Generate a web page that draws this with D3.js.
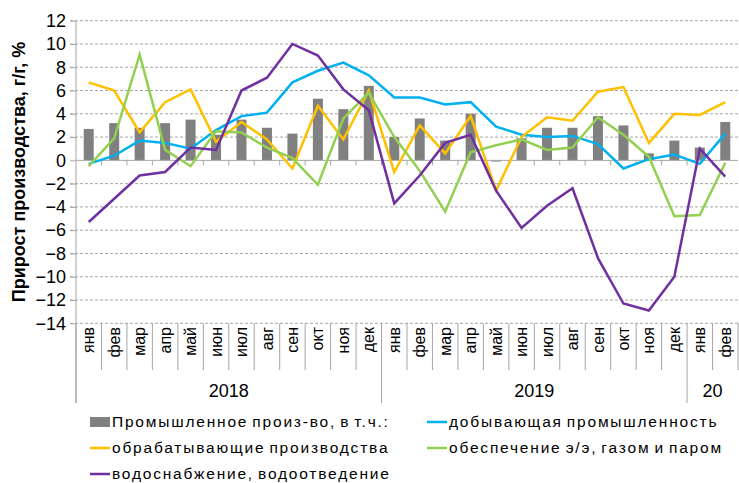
<!DOCTYPE html>
<html>
<head>
<meta charset="utf-8">
<script src="https://cdn.jsdelivr.net/npm/d3@7"></script>
<style>
  body { margin: 0; background: #fff; }
  text { font-family: "Liberation Sans", Arial, sans-serif; fill: #000; }
</style>
</head>
<body>
<div id="chart-area"></div>
<script>
// Data
var months = ["янв", "фев", "мар", "апр", "май", "июн", "июл", "авг", "сен", "окт", "ноя", "дек",
              "янв", "фев", "мар", "апр", "май", "июн", "июл", "авг", "сен", "окт", "ноя", "дек",
              "янв", "фев"];
var years = [{label: "2018", start: 0, end: 12}, {label: "2019", start: 12, end: 24}, {label: "20", start: 24, end: 26}];

var industry = [2.7, 3.2, 2.8, 3.2, 3.5, 2.2, 3.5, 2.8, 2.3, 5.3, 4.4, 6.4,
                2.0, 3.6, 1.7, 4.0, -0.1, 1.9, 2.8, 2.8, 3.8, 3.0, 0.6, 1.7, 1.1, 3.3];
var mining = [-0.3, 0.4, 1.7, 1.5, 1.0, 2.6, 3.8, 4.1, 6.7, 7.7, 8.4, 7.3,
              5.4, 5.4, 4.8, 5.0, 2.9, 2.2, 2.0, 2.1, 1.4, -0.7, 0.1, 0.5, -0.3, 2.3];
var manufacturing = [6.7, 6.0, 2.4, 5.0, 6.1, 1.6, 3.3, 1.8, -0.7, 4.7, 1.8, 6.0,
                     -1.0, 3.0, 0.6, 3.8, -2.6, 2.0, 3.7, 3.4, 5.9, 6.3, 1.5, 4.0, 3.9, 5.0];
var energy = [-0.5, 1.9, 9.1, 0.9, -0.5, 2.5, 2.4, 1.1, 0.2, -2.1, 3.6, 5.8,
              2.0, -0.9, -4.4, 0.7, 1.3, 1.8, 0.9, 1.1, 3.7, 2.2, 0.3, -4.8, -4.7, -0.2];
var water = [-5.3, -3.3, -1.3, -1.0, 1.1, 0.9, 6.0, 7.1, 10.0, 9.0, 6.1, 4.3,
             -3.7, -1.3, 1.5, 2.2, -2.6, -5.8, -3.9, -2.4, -8.4, -12.3, -12.9, -10.0, 1.0, -1.4];
var yTicks = [12, 10, 8, 6, 4, 2, 0, -2, -4, -6, -8, -10, -12, -14];

var lineSeries = [
  {name: "добывающая промышленность", values: mining, color: "#00b0f0"},
  {name: "обрабатывающие производства", values: manufacturing, color: "#ffc000"},
  {name: "обеспечение э/э, газом и паром", values: energy, color: "#92d050"},
  {name: "водоснабжение, водоотведение", values: water, color: "#7030a0"}
];

var W = 739, H = 483;
var svg = d3.select("#chart-area").append("svg")
  .attr("width", W).attr("height", H);

var plotLeft = 76, plotRight = 738, plotTop = 20.7, plotBottom = 323.3;

var x = d3.scaleBand()
  .domain(d3.range(months.length))
  .range([plotLeft, plotRight])
  .padding(0);

var y = d3.scaleLinear()
  .domain([-14, 12])
  .range([plotBottom, plotTop]);

// Grid lines
svg.append("g")
  .selectAll("line")
  .data(yTicks.filter(function(d) { return d !== 0; }))
  .enter().append("line")
  .attr("x1", 70).attr("x2", plotRight)
  .attr("y1", function(d) { return y(d); })
  .attr("y2", function(d) { return y(d); })
  .attr("stroke", "#a6a6a6")
  .attr("stroke-width", 1)
  .attr("stroke-dasharray", "3,2");

// Y axis
var yAxis = d3.axisLeft(y).tickValues(yTicks).tickSize(6).tickPadding(4);
var yg = svg.append("g")
  .attr("transform", "translate(" + plotLeft + ",0)")
  .call(yAxis);
yg.select(".domain").remove();
yg.selectAll(".tick line").attr("stroke", "#a6a6a6");
yg.selectAll(".tick text")
  .style("font-size", "18px")
  .attr("font-family", "Liberation Sans, Arial, sans-serif");

// left vertical axis line
svg.append("line")
  .attr("x1", plotLeft).attr("x2", plotLeft)
  .attr("y1", plotTop).attr("y2", 403)
  .attr("stroke", "#a6a6a6");

// Bars
var barW = 10;
svg.append("g")
  .selectAll("rect")
  .data(industry)
  .enter().append("rect")
  .attr("x", function(d, i) { return x(i) + x.bandwidth() / 2 - barW / 2; })
  .attr("y", function(d) { return y(Math.max(0, d)); })
  .attr("width", barW)
  .attr("height", function(d) { return Math.abs(y(d) - y(0)); })
  .attr("fill", "#808080");

// zero axis line with small ticks
svg.append("line")
  .attr("x1", plotLeft).attr("x2", plotRight)
  .attr("y1", y(0)).attr("y2", y(0))
  .attr("stroke", "#a6a6a6");
svg.append("g")
  .selectAll("line")
  .data(d3.range(1, months.length))
  .enter().append("line")
  .attr("x1", function(d) { return x(d); })
  .attr("x2", function(d) { return x(d); })
  .attr("y1", y(0)).attr("y2", y(0) + 5)
  .attr("stroke", "#a6a6a6");

// Lines
var line = d3.line()
  .x(function(d, i) { return x(i) + x.bandwidth() / 2; })
  .y(function(d) { return y(d); });

svg.append("g")
  .selectAll("path")
  .data(lineSeries)
  .enter().append("path")
  .attr("d", function(s) { return line(s.values); })
  .attr("fill", "none")
  .attr("stroke", function(s) { return s.color; })
  .attr("stroke-width", 2.5)
  .attr("stroke-linejoin", "miter");

// Category separators at bottom
var yearBounds = years.map(function(d) { return d.start; });
svg.append("g")
  .selectAll("line")
  .data(d3.range(0, months.length + 1))
  .enter().append("line")
  .attr("x1", function(d) { return d === months.length ? plotRight : x(d); })
  .attr("x2", function(d) { return d === months.length ? plotRight : x(d); })
  .attr("y1", plotBottom)
  .attr("y2", function(d) { return yearBounds.indexOf(d) >= 0 ? 403 : 370; })
  .attr("stroke", "#a6a6a6");

// Month labels
svg.append("g")
  .selectAll("text")
  .data(months)
  .enter().append("text")
  .attr("transform", function(d, i) {
    return "translate(" + (x(i) + x.bandwidth() / 2) + "," + 327 + ") rotate(-90)";
  })
  .attr("dy", "0.35em")
  .attr("text-anchor", "end")
  .style("font-size", "16px")
  .text(function(d) { return d; });

// Year labels
svg.append("g")
  .selectAll("text")
  .data(years)
  .enter().append("text")
  .attr("x", function(d) { return (x(d.start) + (d.end >= months.length ? plotRight : x(d.end))) / 2; })
  .attr("y", 397)
  .attr("text-anchor", "middle")
  .style("font-size", "18px")
  .text(function(d) { return d.label; });

// Y title
svg.append("text")
  .attr("transform", "translate(19,172) rotate(-90)")
  .attr("dy", "0.35em")
  .attr("text-anchor", "middle")
  .style("font-size", "18px")
  .style("font-weight", "bold")
  .text("Прирост производства, г/г, %");

// Legend
var legendItems = [
  {name: "Промышленное произ-во, в т.ч.:", type: "bar", color: "#808080", col: 0, row: 0},
  {name: lineSeries[0].name, type: "line", color: lineSeries[0].color, col: 1, row: 0},
  {name: lineSeries[1].name, type: "line", color: lineSeries[1].color, col: 0, row: 1},
  {name: lineSeries[2].name, type: "line", color: lineSeries[2].color, col: 1, row: 1},
  {name: lineSeries[3].name, type: "line", color: lineSeries[3].color, col: 0, row: 2}
];
var colX = [90, 427], rowY = [422, 448, 474];

var lg = svg.append("g").selectAll("g")
  .data(legendItems)
  .enter().append("g")
  .attr("transform", function(d) { return "translate(" + colX[d.col] + "," + rowY[d.row] + ")"; });

lg.filter(function(d) { return d.type === "bar"; })
  .append("rect")
  .attr("x", 0).attr("y", -5).attr("width", 20).attr("height", 10)
  .attr("fill", "#808080");
lg.filter(function(d) { return d.type === "line"; })
  .append("line")
  .attr("x1", 0).attr("x2", 20).attr("y1", 0).attr("y2", 0)
  .attr("stroke", function(d) { return d.color; })
  .attr("stroke-width", 2.5);
lg.append("text")
  .attr("x", 22)
  .attr("dy", "0.35em")
  .style("font-size", "15.5px")
  .style("letter-spacing", "1.8px")
  .style("word-spacing", "-2px")
  .text(function(d) { return d.name; });
</script>
</body>
</html>
